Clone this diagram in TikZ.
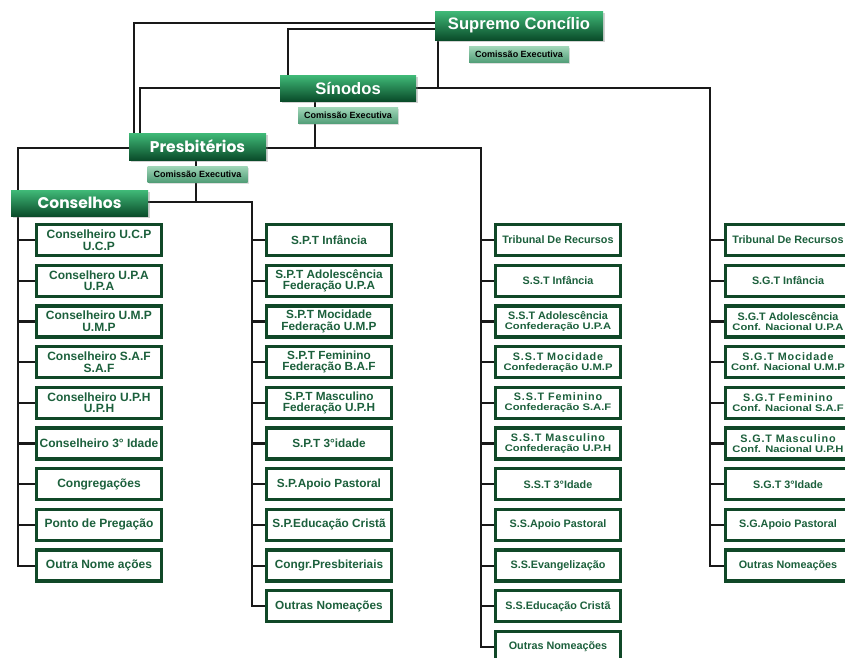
\documentclass[tikz,border=0pt]{standalone}
\usepackage{fontspec}
\setmainfont{Liberation Sans}
\newfontfamily\gothicfont{Poppins}
\usepackage{xcolor}
\usepackage{tikz}
\usetikzlibrary{calc}
\usetikzlibrary{positioning}
\usetikzlibrary{shadows}
\usetikzlibrary{backgrounds}
\definecolor{hdrtop}{RGB}{64,186,120}
\definecolor{hdrbot}{RGB}{10,76,42}
\definecolor{cetop}{RGB}{160,214,184}
\definecolor{cebot}{RGB}{82,158,120}
\definecolor{unitgreen}{RGB}{16,72,40}
\definecolor{unittext}{RGB}{28,96,60}
\definecolor{linkgray}{RGB}{25,25,25}
\newcommand{\wide}[1]{{\addfontfeature{LetterSpace=8}#1}}
\newcommand{\narrowline}[1]{{\fontsize{9.5}{10}\selectfont\addfontfeature{FakeStretch=1.18}#1}}
\tikzstyle{hdr} = [draw=none, top color=hdrtop, bottom color=hdrbot, text=white, inner sep=0, font=\bfseries\fontsize{16.6}{18}\selectfont, drop shadow={opacity=.35, shadow xshift=1.5pt, shadow yshift=-2pt}]
\tikzstyle{hdrg} = [hdr, font=\gothicfont\bfseries\fontsize{15.5}{17}\selectfont]
\tikzstyle{ce} = [draw=none, top color=cetop, bottom color=cebot, text=black, inner sep=0, minimum width=100pt, minimum height=16pt, font=\bfseries\fontsize{9}{9}\selectfont, drop shadow={opacity=.25, shadow xshift=1pt, shadow yshift=-1.5pt}]
\tikzstyle{unit} = [draw=unitgreen, line width=3.3pt, fill=white, text=unittext, inner sep=0, align=center, minimum width=125pt, minimum height=31pt, font=\bfseries\fontsize{12}{11.5}\selectfont]
\tikzstyle{unitmd} = [unit, font=\bfseries\fontsize{11.8}{11.5}\selectfont]
\tikzstyle{unitsm} = [unit, font=\bfseries\fontsize{10.8}{10}\selectfont]
\tikzstyle{link} = [draw=linkgray, line width=2.2pt]

\begin{document}
\begin{tikzpicture}[x=1pt, y=-1pt]
\useasboundingbox (0,0) rectangle (845,657);
\node [hdr, minimum width=168pt, minimum height=29pt] (SC) at (519, 25.5) {Supremo Concílio};
\node [ce] (SCce) at (519, 54.5) {Comissão Executiva};
\node [hdr, minimum width=136pt, minimum height=26pt] (S) at (348, 88) {Sínodos};
\node [ce] (Sce) at (348, 115.5) {Comissão Executiva};
\node [hdrg, minimum width=137pt, minimum height=27pt] (P) at (197.5, 146.5) {Presbitérios};
\node [ce] (Pce) at (197.5, 174) {Comissão Executiva};
\node [hdrg, minimum width=137pt, minimum height=26pt] (C) at (79.5, 203) {Conselhos};

\foreach \t [count=\i] in {{Conselheiro U.C.P\\U.C.P}, {Conselhero U.P.A\\U.P.A}, {Conselheiro U.M.P\\U.M.P}, {Conselheiro S.A.F\\S.A.F}, {Conselheiro U.P.H\\U.P.H}, {Conselheiro 3° Idade}, {Congregações}, {Ponto de Pregação}, {Outra Nome ações}}
  \node [unit] (a\i) at (99, {240+40.7*(\i-1)}) {\t};
\foreach \t [count=\i] in {{S.P.T Infância}, {S.P.T Adolescência\\Federação U.P.A}, {S.P.T Mocidade\\Federação U.M.P}, {S.P.T Feminino\\Federação B.A.F}, {S.P.T Masculino\\Federação U.P.H}, {S.P.T 3°idade}, {S.P.Apoio Pastoral}, {S.P.Educação Cristã}, {Congr.Presbiteriais}, {Outras Nomeações}}
  \node [unitmd] (b\i) at (329, {240+40.7*(\i-1)}) {\t};
\foreach \t [count=\i] in {{Tribunal De Recursos}, {S.S.T Infância}, {S.S.T Adolescência\\\narrowline{Confederação U.P.A}}, {\wide{S.S.T Mocidade}\\\narrowline{Confederação U.M.P}}, {\wide{S.S.T Feminino}\\\narrowline{Confederação S.A.F}}, {\wide{S.S.T Masculino}\\\narrowline{Confederação U.P.H}}, {S.S.T 3°Idade}, {S.S.Apoio Pastoral}, {S.S.Evangelização}, {S.S.Educação Cristã}, {Outras Nomeações}}
  \node [unitsm] (c\i) at (558, {240+40.7*(\i-1)}) {\t};
\foreach \t [count=\i] in {{Tribunal De Recursos}, {S.G.T Infância}, {S.G.T Adolescência\\\narrowline{Conf. Nacional U.P.A}}, {\wide{S.G.T Mocidade}\\\narrowline{Conf. Nacional U.M.P}}, {\wide{S.G.T Feminino}\\\narrowline{Conf. Nacional S.A.F}}, {\wide{S.G.T Masculino}\\\narrowline{Conf. Nacional U.P.H}}, {S.G.T 3°Idade}, {S.G.Apoio Pastoral}, {Outras Nomeações}}
  \node [unitsm] (d\i) at (788, {240+40.7*(\i-1)}) {\t};

\coordinate (t1) at (18, 148);
\coordinate (t2) at (252, 202);
\coordinate (t3) at (481, 148);
\coordinate (t4) at (710, 88);

\begin{scope}[on background layer]
\fill [white] (0,0) rectangle (845,657);
\draw [link] ([yshift=2.5pt]SC.west) -| ([xshift=5pt]P.north west);
\draw [link] ([yshift=-3.5pt]SC.west) -| ([xshift=8pt]S.north west);
\draw [link] (S.west) -| ([xshift=11pt]P.north west);
\draw [link] ([xshift=-81pt]SC.south) -- ([xshift=-81pt]SC.south |- t4);
\draw [link] (t4 -| S.east) -- (t4) |- (d9.west);
\draw [link] ([xshift=-33pt]S.south) -- ([xshift=-33pt]S.south |- t3);
\draw [link] (t3 -| P.east) -- (t3) |- (c11.west);
\draw [link] (t1 -| P.west) -- (t1) |- (a9.west);
\draw [link] ([xshift=-1.5pt]P.south) -- ([xshift=-1.5pt]P.south |- t2);
\draw [link] (t2 -| C.east) -- (t2) |- (b10.west);
\foreach \i in {1,...,8} \draw [link] (t1 |- a\i.west) -- (a\i.west);
\foreach \i in {1,...,9} \draw [link] (t2 |- b\i.west) -- (b\i.west);
\foreach \i in {1,...,10} \draw [link] (t3 |- c\i.west) -- (c\i.west);
\foreach \i in {1,...,8} \draw [link] (t4 |- d\i.west) -- (d\i.west);
\end{scope}
\end{tikzpicture}
\end{document}
